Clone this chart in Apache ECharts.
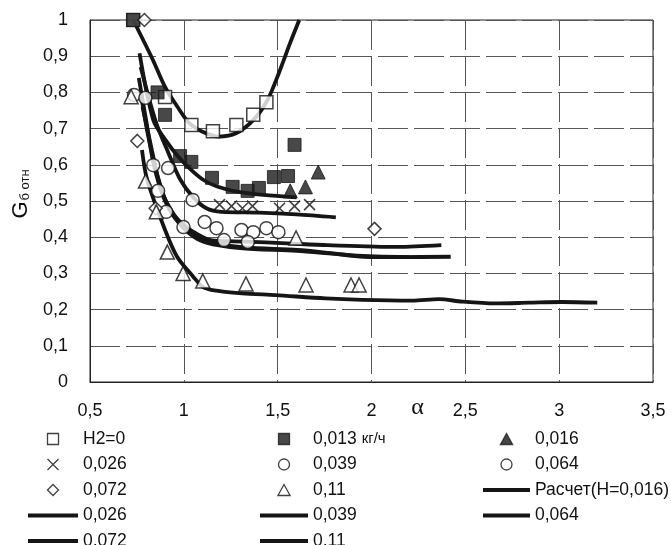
<!DOCTYPE html>
<html><head><meta charset="utf-8">
<script src="https://cdn.jsdelivr.net/npm/echarts@6/dist/echarts.min.js"></script>
<style>html,body{margin:0;padding:0;background:#fff}#c{width:671px;height:545px}</style>
</head><body><div id="c"></div>
<script>
// ---- axis ticks ----
const xTicks = [0.5, 1, 1.5, 2, 2.5, 3, 3.5];
const yTicks = [0, 0.1, 0.2, 0.3, 0.4, 0.5, 0.6, 0.7, 0.8, 0.9, 1];

// ---- experimental points ----
const h0X = [0.73, 0.90, 1.04, 1.155, 1.28, 1.37, 1.44];
const h0Y = [1.0, 0.787, 0.71, 0.693, 0.71, 0.738, 0.773];

const g013X = [0.73, 0.86, 0.90, 0.98, 1.04, 1.15, 1.26, 1.34, 1.40, 1.48, 1.555, 1.59];
const g013Y = [1.0, 0.80, 0.738, 0.624, 0.608, 0.564, 0.539, 0.528, 0.536, 0.566, 0.569, 0.655];

const g016X = [1.567, 1.648, 1.716];
const g016Y = [0.528, 0.539, 0.58];

const g026X = [1.19, 1.254, 1.312, 1.366, 1.51, 1.59, 1.67];
const g026Y = [0.49, 0.486, 0.48, 0.486, 0.48, 0.486, 0.49];

const g039X = [0.735, 0.837, 1.047, 1.111, 1.174, 1.307, 1.37, 1.44, 1.504];
const g039Y = [0.793, 0.599, 0.503, 0.442, 0.425, 0.42, 0.414, 0.425, 0.414];

const g064X = [0.795, 0.916, 0.863, 0.906, 0.998, 1.214, 1.341];
const g064Y = [0.785, 0.591, 0.528, 0.47, 0.428, 0.392, 0.387];

const g072X = [0.79, 0.752, 0.85, 2.016];
const g072Y = [1.0, 0.666, 0.48, 0.423];

const g11X = [0.719, 0.796, 0.853, 0.912, 0.996, 1.101, 1.331, 1.598, 1.651, 1.891, 1.934];
const g11Y = [0.788, 0.555, 0.47, 0.359, 0.30, 0.279, 0.271, 0.398, 0.268, 0.268, 0.268];

// ---- calculated curves ----
const cH0X = [0.73, 0.834, 0.899, 0.965, 1.032, 1.118, 1.189, 1.278, 1.371, 1.446, 1.506, 1.566, 1.615];
const cH0Y = [1.0, 0.891, 0.816, 0.761, 0.714, 0.687, 0.678, 0.687, 0.724, 0.779, 0.853, 0.936, 1.0];

const c016X = [0.764, 0.837, 0.902, 0.971, 1.039, 1.105, 1.177, 1.283, 1.423, 1.601];
const c016Y = [0.908, 0.724, 0.669, 0.622, 0.586, 0.558, 0.54, 0.526, 0.517, 0.51];

const c026X = [0.77, 0.85, 0.92, 0.98, 1.05, 1.12, 1.2, 1.4, 1.6, 1.81];
const c026Y = [0.87, 0.72, 0.63, 0.56, 0.51, 0.48, 0.47, 0.468, 0.463, 0.455];

const c039X = [0.76, 0.8, 0.84, 0.9, 0.97, 1.05, 1.144, 1.324, 1.55, 1.767, 2.14, 2.372];
const c039Y = [0.84, 0.72, 0.6, 0.5, 0.448, 0.415, 0.392, 0.388, 0.383, 0.378, 0.373, 0.378];

const c064X = [0.77, 0.81, 0.86, 0.92, 0.99, 1.07, 1.15, 1.323, 1.606, 1.783, 1.96, 2.137, 2.422];
const c064Y = [0.8, 0.68, 0.57, 0.48, 0.43, 0.40, 0.385, 0.372, 0.365, 0.356, 0.346, 0.345, 0.346];

const c072X = [0.78, 0.83, 0.88, 0.95, 1.03, 1.12, 1.3, 1.6, 1.9, 2.2];
const c072Y = [0.76, 0.64, 0.53, 0.46, 0.41, 0.385, 0.37, 0.362, 0.35, 0.345];

const c11X = [0.777, 0.805, 0.9, 0.964, 1.05, 1.1, 1.152, 1.311, 1.488, 1.754, 1.95, 2.216, 2.359, 2.483, 2.66, 2.838, 3.016, 3.203];
const c11Y = [0.641, 0.558, 0.42, 0.346, 0.291, 0.263, 0.254, 0.245, 0.24, 0.231, 0.227, 0.225, 0.229, 0.222, 0.217, 0.219, 0.221, 0.219];

// ---- legend columns ----
const legendCol1 = ['H2=0', '0,026', '0,072', '0,026 ', '0,072 '];
const legendCol2 = ['0,013 кг/ч', '0,039', '0,11', '0,039 ', '0,11 '];
const legendCol3 = ['0,016', '0,064', 'Расчет(H=0,016)', '0,064 '];

const zip = (xs, ys) => xs.map((x, i) => [x, ys[i]]);
const FONT = 'Liberation Sans, Arial, sans-serif';
const fmt = v => String(Math.round(v * 10) / 10).replace('.', ',');

const SYM = {
  square: 'path://M0,0H10V10H0Z',
  tri: 'path://M5,0L10,9H0Z',
  circ: 'path://M5,0A5,5,0,1,1,4.99,0Z',
  dia: 'path://M5,0L10,5L5,10L0,5Z',
  cross: 'path://M0,0L10,10M10,0L0,10',
  line: 'path://M0,0H50V4H0Z'
};
const iconOf = {
  'H2=0': SYM.square, '0,013 кг/ч': SYM.square, '0,016': SYM.tri,
  '0,026': SYM.cross, '0,039': SYM.circ, '0,064': SYM.circ,
  '0,072': SYM.dia, '0,11': SYM.tri
};
const legendItems = names => names.map(n => ({name: n, icon: iconOf[n] || SYM.line}));

const openStyle = {color: '#fff', borderColor: '#111', borderWidth: 1.5};
const filledStyle = {color: '#1a1a1a', borderColor: '#1a1a1a', borderWidth: 1};

function scatter(name, xs, ys, symbol, size, style) {
  return {type: 'scatter', name, data: zip(xs, ys), symbol, symbolSize: size,
    itemStyle: style, z: 5, clip: false};
}
function curve(name, xs, ys) {
  return {type: 'line', name, data: zip(xs, ys), smooth: 0.3, symbol: 'none', showSymbol: false,
    lineStyle: {color: '#151515', width: 3.8}, itemStyle: {color: '#151515'}, z: 3};
}

const legendCommon = {
  orient: 'vertical', itemHeight: 11, itemGap: 7.5, height: 160, selectedMode: false,
  symbolKeepAspect: true,
  itemStyle: {borderWidth: 1.3},
  textStyle: {fontSize: 17.5, color: '#111', fontFamily: FONT, rich: {u: {fontSize: 15, color: '#111', fontFamily: FONT}}},
  formatter: n => n === '0,013 кг/ч' ? '0,013 {u|кг/ч}' : n.trim()
};

const option = {
  backgroundColor: '#fff',
  animation: false,
  grid: {left: 90, right: 18, top: 20, bottom: 163, show: true, borderColor: '#222', borderWidth: 1,
    backgroundColor: 'transparent', outerBoundsMode: 'none'},
  xAxis: {
    type: 'value', min: xTicks[0], max: xTicks[xTicks.length - 1], interval: 0.5,
    axisLine: {show: true, lineStyle: {color: '#222', width: 1}},
    axisTick: {show: false},
    axisLabel: {margin: 20, fontSize: 18, color: '#111', fontFamily: FONT, formatter: fmt},
    splitLine: {show: true, lineStyle: {color: '#555', width: 1, type: [30, 6]}},
    name: 'α', nameLocation: 'middle', nameGap: 14, nameMoveOverlap: false,
    nameTextStyle: {fontSize: 24, color: '#111', fontFamily: 'Liberation Serif, serif', padding: [0, 0, 0, 92]}
  },
  yAxis: {
    type: 'value', min: yTicks[0], max: yTicks[yTicks.length - 1], interval: 0.1,
    axisLine: {show: true, lineStyle: {color: '#222', width: 1}},
    axisTick: {show: false},
    axisLabel: {margin: 22, fontSize: 18, color: '#111', fontFamily: FONT, formatter: fmt},
    splitLine: {show: true, lineStyle: {color: '#555', width: 1, type: [30, 6]}},
    name: '{g|G}{s|б отн}', nameLocation: 'middle', nameGap: 58, nameMoveOverlap: false,
    nameTextStyle: {color: '#111', padding: [0, 0, 0, 14], rich: {
      g: {fontSize: 22, color: '#111', fontFamily: FONT},
      s: {fontSize: 13, color: '#111', fontFamily: FONT, padding: [9, 0, 0, 1]}
    }}
  },
  legend: [
    Object.assign({left: 23, top: 425, itemWidth: 50, data: legendItems(legendCol1)}, legendCommon),
    Object.assign({left: 255, top: 425, itemWidth: 48, data: legendItems(legendCol2)}, legendCommon),
    Object.assign({left: 478, top: 425, itemWidth: 47, data: legendItems(legendCol3)}, legendCommon)
  ],
  series: [
    curve('H2=0 расчет', cH0X, cH0Y),
    curve('Расчет(H=0,016)', c016X, c016Y),
    curve('0,026 ', c026X, c026Y),
    curve('0,039 ', c039X, c039Y),
    curve('0,064 ', c064X, c064Y),
    curve('0,072 ', c072X, c072Y),
    curve('0,11 ', c11X, c11Y),
    scatter('H2=0', h0X, h0Y, 'rect', 13, openStyle),
    scatter('0,013 кг/ч', g013X, g013Y, 'rect', 13, filledStyle),
    scatter('0,016', g016X, g016Y, 'triangle', 14, filledStyle),
    scatter('0,026', g026X, g026Y, SYM.cross, 11, {color: '#111', borderColor: '#111', borderWidth: 1.6}),
    scatter('0,039', g039X, g039Y, 'circle', 13, openStyle),
    scatter('0,064', g064X, g064Y, 'circle', 13, openStyle),
    scatter('0,072', g072X, g072Y, 'diamond', 13, openStyle),
    scatter('0,11', g11X, g11Y, 'triangle', 14, openStyle)
  ]
};
const chart = echarts.init(document.getElementById('c'), null, {renderer: 'canvas'});
chart.setOption(option);
</script></body></html>
